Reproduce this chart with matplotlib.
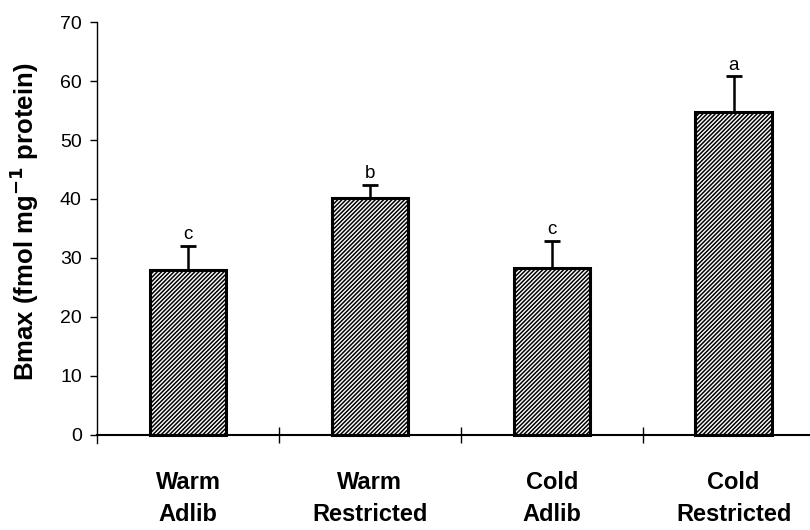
import matplotlib.pyplot as plt

groups = ['Warm\nAdlib', 'Warm\nRestricted', 'Cold\nAdlib', 'Cold\nRestricted']
bmax = [28.0, 40.2, 28.3, 54.8]
sem = [4.0, 2.2, 4.6, 6.0]
letters = ['c', 'b', 'c', 'a']

plt.rcParams['font.family'] = ['Liberation Sans', 'DejaVu Sans']
plt.rcParams['hatch.linewidth'] = 1.1
plt.rcParams['hatch.color'] = 'black'

fig = plt.figure(figsize=(8.1, 5.3), dpi=100)
ax = fig.add_axes([0.1198, 0.164, 0.8802, 0.7943])

x = list(range(len(groups)))
ax.bar(x, bmax, width=0.42, color='white', edgecolor='black',
       linewidth=2.2, hatch='////////', zorder=2)
ax.errorbar(x, bmax, yerr=[[0] * len(sem), sem], fmt='none',
            ecolor='black', elinewidth=1.8, capsize=5.5, capthick=2,
            zorder=3)

for xi, v, e, lab in zip(x, bmax, sem, letters):
    ax.annotate(lab, (xi, v + e), xytext=(0, 2), textcoords='offset points',
                ha='center', va='bottom', fontsize=13.5)

ax.set_xlim(-0.5, 3.42)
ax.set_ylim(-1.4, 70)
ax.set_yticks(range(0, 71, 10))
ax.tick_params(axis='y', direction='out', length=5, width=1,
               labelsize=14, pad=6)

# boundary ticks between groups
ax.set_xticks([0.5, 1.5, 2.5])
ax.set_xticklabels([])
ax.tick_params(axis='x', direction='inout', length=12, width=1)

# group names centred under the bars
for xi, name in zip(x, groups):
    ax.annotate(name, (xi, 0), xycoords=('data', 'data'),
                xytext=(0, -26), textcoords='offset points',
                ha='center', va='top', fontsize=17, fontweight='bold',
                linespacing=1.5, annotation_clip=False)

ax.spines['top'].set_visible(False)
ax.spines['right'].set_visible(False)
ax.spines['bottom'].set_position(('data', 0))
ax.spines['bottom'].set_linewidth(1.5)
ax.spines['left'].set_linewidth(1.0)

ax.set_ylabel(r'Bmax (fmol mg$^{\mathbf{-1}}$ protein)', fontsize=18.5,
              fontweight='bold')
ax.yaxis.set_label_coords(-0.079, 0.525)

fig.savefig('out.png', dpi=100)
